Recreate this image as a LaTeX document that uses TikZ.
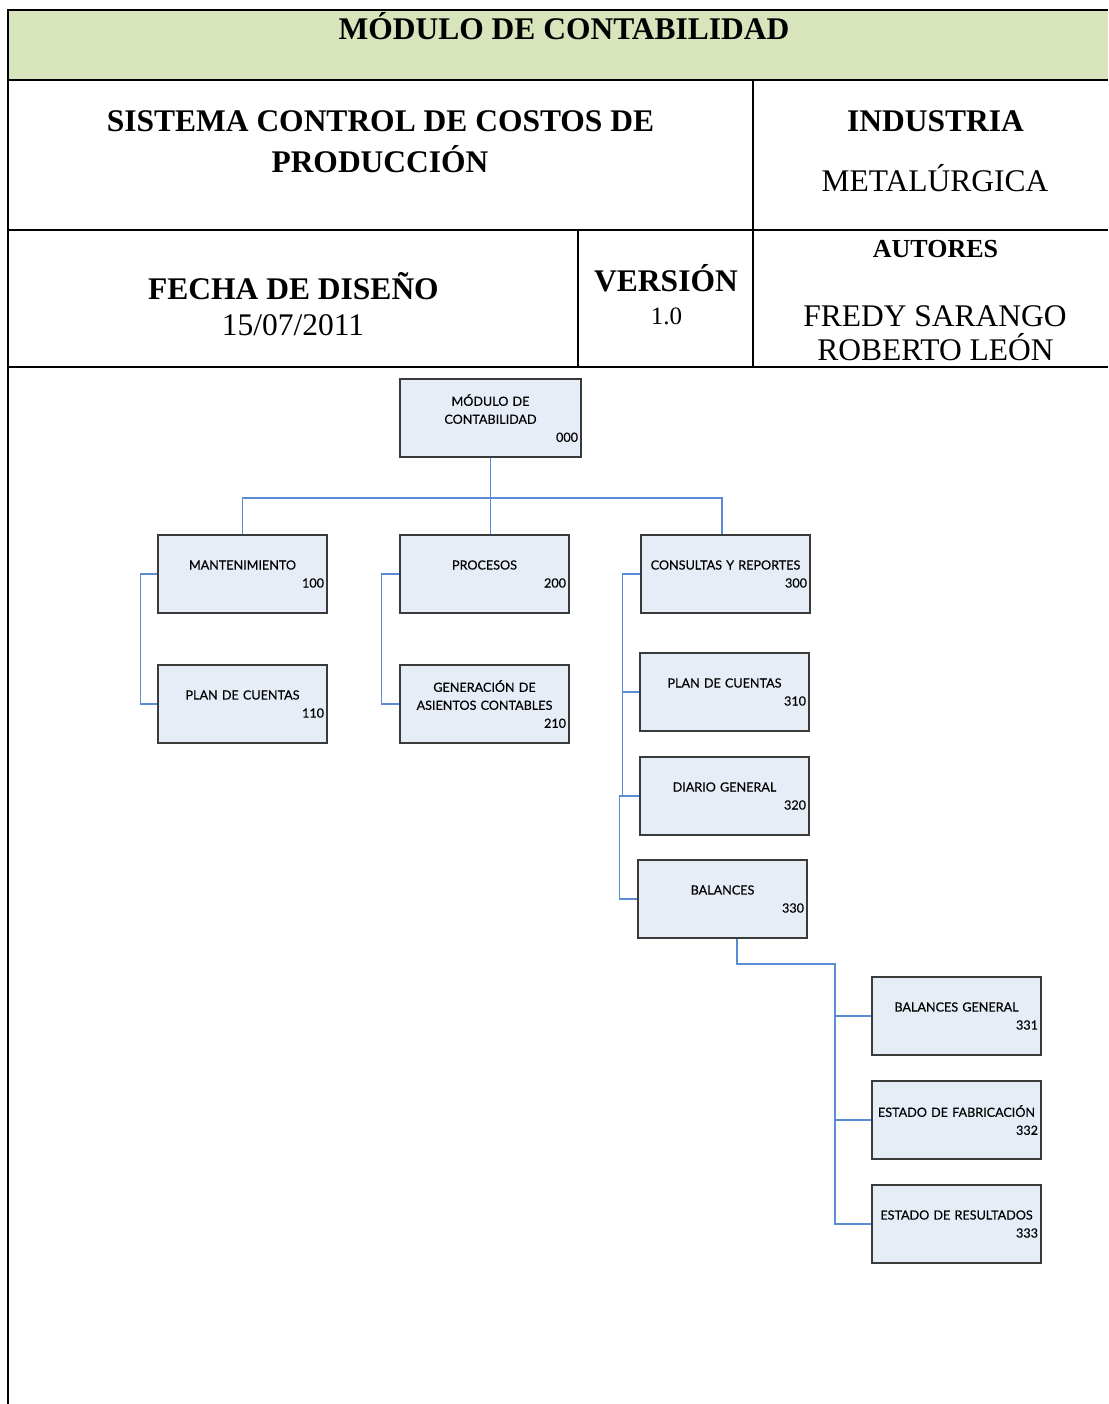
\documentclass[tikz,border=0pt]{standalone}
\usepackage{fontspec}
\setmainfont{Liberation Serif}
\newfontfamily\boxfont[FakeBold=0.35]{Lato}
\definecolor{headgreen}{HTML}{D8E4BC}
\definecolor{boxfill}{HTML}{E7EDF7}
\definecolor{boxline}{HTML}{3A3A3A}
\definecolor{linkblue}{HTML}{5B8CD5}
\tikzset{
  grid line/.style={line width=2.6pt, black},
  headtxt/.style={anchor=base, inner sep=0pt, font=\fontsize{31.5}{36}\selectfont\bfseries},
  plaintxt/.style={anchor=base, inner sep=0pt, font=\fontsize{31.5}{36}\selectfont},
  orgbox/.style={draw=boxline, fill=boxfill, line width=1.2pt, minimum width=169pt,
    minimum height=78pt, text width=163pt, inner xsep=3pt, inner ysep=0pt,
    font=\boxfont\fontsize{12.6}{18}\selectfont},
  link/.style={draw=linkblue, line width=1.3pt}
}
\newcommand\orgnode[5][]{\node[orgbox,#1] (#2) at (#3) {\centering #4\par\raggedleft #5\par};}
\begin{document}
\begin{tikzpicture}[x=1pt, y=-1pt]
\useasboundingbox (0,0) rectangle (1108,1404);

% header table
\fill[headgreen] (8,10) rectangle (1108,80);
\draw[grid line] (1108,10) -- (8,10) -- (8,1404);
\draw[grid line] (8,80) -- (1108,80);
\draw[grid line] (8,230) -- (1108,230);
\draw[grid line] (8,367) -- (1108,367);
\draw[grid line] (753,80) -- (753,367);
\draw[grid line] (578,230) -- (578,367);

\node[headtxt] (title) at (564,40) {MÓDULO DE CONTABILIDAD};
\node[headtxt] (sys1) at (380.5,132) {SISTEMA CONTROL DE COSTOS DE};
\node[headtxt] (sys2) at (380,173) {PRODUCCIÓN};
\node[headtxt] (ind1) at (935.5,132) {INDUSTRIA};
\node[plaintxt] (ind2) at (935,192) {METALÚRGICA};
\node[headtxt] (fecha) at (293.5,299) {FECHA DE DISEÑO};
\node[plaintxt] (fechav) at (293,335) {15/07/2011};
\node[headtxt] (ver) at (666,292) {VERSIÓN};
\node[plaintxt, font=\fontsize{25}{30}\selectfont] (verv) at (666.5,324) {1.0};
\node[headtxt, font=\fontsize{26}{30}\selectfont\bfseries] (aut) at (935.5,258) {AUTORES};
\node[plaintxt] (aut1) at (935,326) {FREDY SARANGO};
\node[plaintxt] (aut2) at (935.5,360) {ROBERTO LEÓN};

% module tree
\orgnode[minimum width=181pt, text width=175pt]{root}{490.5,418}{MÓDULO DE\\CONTABILIDAD}{000}
\orgnode{mant}{242.5,574}{MANTENIMIENTO}{100}
\orgnode{proc}{484.5,574}{PROCESOS}{200}
\orgnode{cons}{725.5,574}{CONSULTAS Y REPORTES}{300}
\orgnode{plan}{242.5,704}{PLAN DE CUENTAS}{110}
\orgnode{gen}{484.5,704}{GENERACIÓN DE\\ASIENTOS CONTABLES}{210}
\orgnode{pc}{724.5,692}{PLAN DE CUENTAS}{310}
\orgnode{dg}{724.5,796}{DIARIO GENERAL}{320}
\orgnode{bal}{722.5,899}{BALANCES}{330}
\orgnode{bg}{956.5,1016}{BALANCES GENERAL}{331}
\orgnode{ef}{956.5,1120}{ESTADO DE FABRICACIÓN}{332}
\orgnode{er}{956.5,1224}{ESTADO DE RESULTADOS}{333}

\coordinate (bus) at (490.5,498);
\coordinate (bend) at (835,964);

\draw[link] (root.south) -- (root.south |- proc.north);
\draw[link] (mant.north) -- (mant.north |- bus) -- ([xshift=-3.5pt]cons.north |- bus) -- ([xshift=-3.5pt]cons.north);

\draw[link] (mant.west) -- ++(-17,0) |- (plan.west);
\draw[link] (proc.west) -- ++(-18,0) |- (gen.west);
\draw[link] (cons.west) -- ++(-18,0) |- (dg.west);
\draw[link] (pc.west) -- ++(-17,0);
\draw[link] (dg.west) -- ++(-20,0) |- (bal.west);

\draw[link] ([xshift=14.5pt]bal.south) |- (bend) |- (er.west);
\draw[link] (bend |- bg.west) -- (bg.west);
\draw[link] (bend |- ef.west) -- (ef.west);
\end{tikzpicture}
\end{document}
